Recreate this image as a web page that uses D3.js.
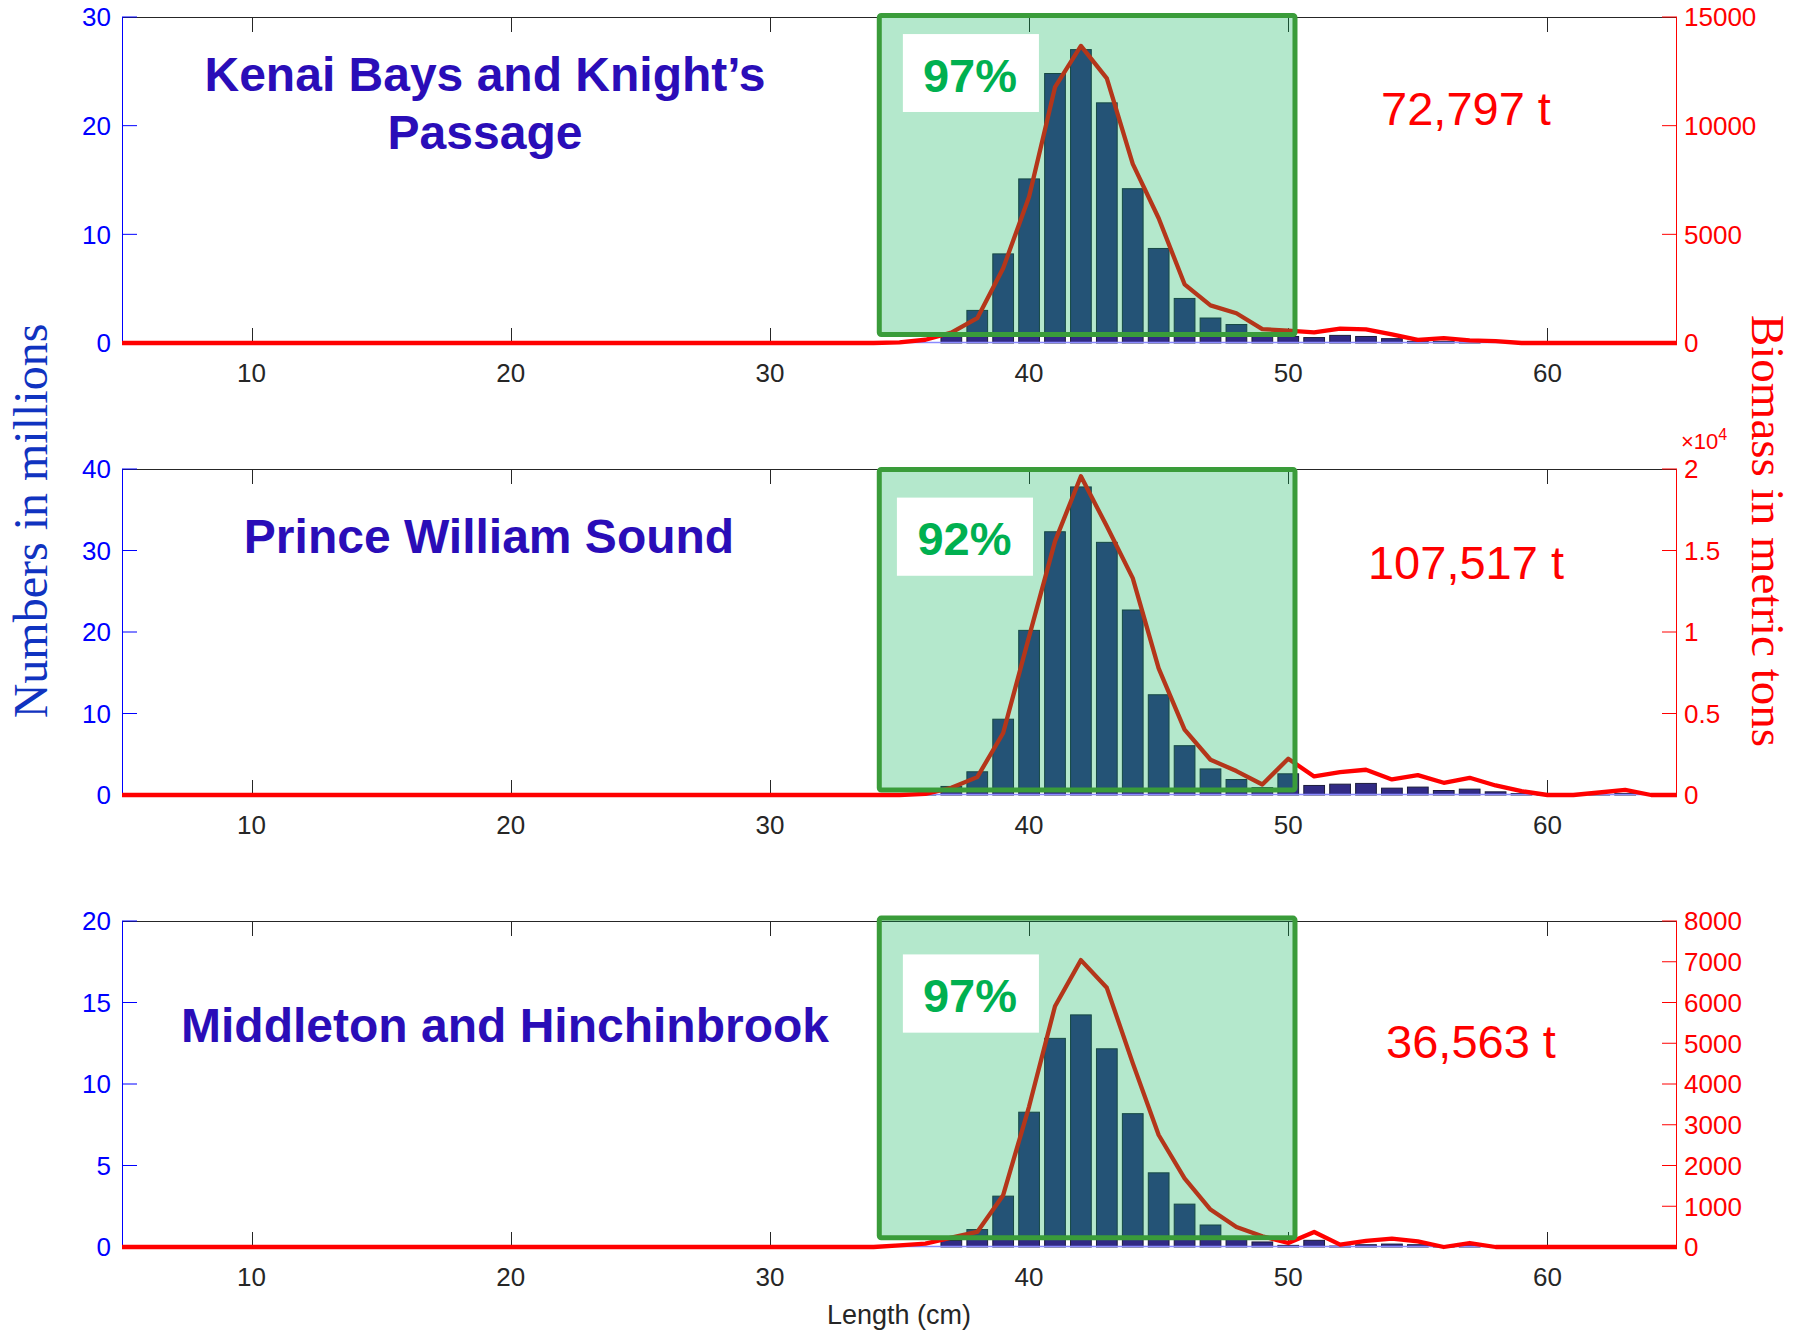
<!DOCTYPE html>
<html><head><meta charset="utf-8">
<script src="https://cdn.jsdelivr.net/npm/d3@7/dist/d3.min.js"></script>
<style>body{margin:0;background:#fff}svg{display:block}</style>
</head><body>
<script>
// ---------- data ----------
const lengths = [5,6,7,8,9,10,11,12,13,14,15,16,17,18,19,20,21,22,23,24,25,26,27,28,29,30,31,32,33,34,35,36,37,38,39,40,41,42,43,44,45,46,47,48,49,50,51,52,53,54,55,56,57,58,59,60,61,62,63,64,65];
const xTicks = [10,20,30,40,50,60];

// numbers in millions, lengths 5..65
const numbersKenai = [0,0,0,0,0,0,0,0,0,0,0,0,0,0,0,0,0,0,0,0,0,0,0,0,0,0,0,0,0,0,0,0,
  0.6,3.0,8.2,15.1,24.8,27.0,22.1,14.2,8.7,4.1,2.3,1.7,0.6,0.6,0.5,0.7,0.6,0.4,0.15,0.15,0.1,0,0,0,0,0,0,0,0];
const numbersPWS = [0,0,0,0,0,0,0,0,0,0,0,0,0,0,0,0,0,0,0,0,0,0,0,0,0,0,0,0,0,0,0,0.1,
  1.05,2.85,9.3,20.2,32.3,37.8,31.0,22.7,12.3,6.05,3.2,1.9,0.9,2.6,1.17,1.33,1.42,0.84,0.97,0.55,0.72,0.39,0.18,0.05,0,0.05,0.18,0,0];
const numbersMH = [0,0,0,0,0,0,0,0,0,0,0,0,0,0,0,0,0,0,0,0,0,0,0,0,0,0,0,0,0,0,0,0,
  0.4,1.07,3.12,8.27,12.8,14.24,12.16,8.18,4.55,2.63,1.35,0.6,0.31,0.1,0.41,0.06,0.14,0.18,0.14,0.05,0.14,0,0,0,0,0,0,0,0];

// biomass in metric tons, lengths 5..65
const biomassKenai = [0,0,0,0,0,0,0,0,0,0,0,0,0,0,0,0,0,0,0,0,0,0,0,0,0,0,0,0,0,0,30,150,
  480,1140,3440,6730,11770,13670,12180,8240,5740,2700,1730,1370,640,570,490,660,630,400,140,220,120,90,0,0,0,0,0,0,0];
const biomassPWS = [0,0,0,0,0,0,0,0,0,0,0,0,0,0,0,0,0,0,0,0,0,0,0,0,0,0,0,0,0,0,0,70,
  441,1097,3805,9713,15559,19559,16482,13303,7764,4010,2164,1467,646,2226,1138,1405,1549,954,1221,749,1056,585,236,0,0,154,318,0,0];
const biomassMH = [0,0,0,0,0,0,0,0,0,0,0,0,0,0,0,0,0,0,0,0,0,0,0,0,0,0,0,0,0,0,41,82,
  230,369,1272,3446,5908,7040,6360,4513,2749,1682,919,492,263,98,369,57,148,205,140,0,98,0,0,0,0,0,0,0,0];

const titles = [["Kenai Bays and Knight’s","Passage"],["Prince William Sound"],["Middleton and Hinchinbrook"]];
const percents = ["97%","92%","97%"];
const totals = ["72,797 t","107,517 t","36,563 t"];
const leftMax = [30,40,20];
const leftTicks = [[0,10,20,30],[0,10,20,30,40],[0,5,10,15,20]];
const rightMax = [15000,20000,8000];
const rightTicks = [[0,5000,10000,15000],[0,5000,10000,15000,20000],[0,1000,2000,3000,4000,5000,6000,7000,8000]];
const rightTickLabels = [["0","5000","10000","15000"],["0","0.5","1","1.5","2"],["0","1000","2000","3000","4000","5000","6000","7000","8000"]];
const numbersAll = [numbersKenai, numbersPWS, numbersMH];
const biomassAll = [biomassKenai, biomassPWS, biomassMH];
// annotation boxes in data units: [x0,x1,yTop,yBottom] (left axis units)
const greenBox = [[34.22,50.26,30.14,0.78],[34.22,50.26,39.94,0.62],[34.22,50.26,20.18,0.57]];
const whiteBox = [[35.13,40.38,28.43,21.26],[34.9,40.15,36.49,26.9],[35.13,40.38,17.95,13.15]];

// ---------- layout ----------
const W = 1795, H = 1334;
const panelTop = [17, 469, 921];
const panelH = 326;
const x0 = 122, x1 = 1677;
const titleX = [485, 489, 505];
const titleY = [91, 553, 1042];
const pctX = [970, 964.5, 970];
const pctY = [92, 555, 1012];
const totX = [1466, 1466, 1471];
const totY = [125, 579, 1058];

const svg = d3.select("body").append("svg").attr("width", W).attr("height", H)
  .style("font-family", "'Liberation Sans', Arial, sans-serif");

const x = d3.scaleLinear().domain([5, 65]).range([x0, x1]);
const barW = x(5.8) - x(5);
const gray = "#262626";

for (let p = 0; p < 3; p++) {
  const top = panelTop[p], bot = top + panelH;
  const yL = d3.scaleLinear().domain([0, leftMax[p]]).range([bot, top]);
  const yR = d3.scaleLinear().domain([0, rightMax[p]]).range([bot, top]);
  const g = svg.append("g");

  // axes lines
  g.append("line").attr("x1", x0).attr("x2", x1).attr("y1", top + 0.5).attr("y2", top + 0.5)
    .attr("stroke", gray).attr("stroke-width", 1);
  // x ticks (top and bottom, inward)
  xTicks.forEach(t => {
    const xx = Math.round(x(t)) + 0.5;
    g.append("line").attr("x1", xx).attr("x2", xx).attr("y1", top).attr("y2", top + 15).attr("stroke", gray);
    g.append("line").attr("x1", xx).attr("x2", xx).attr("y1", bot).attr("y2", bot - 15).attr("stroke", gray);
    g.append("text").attr("x", x(t)).attr("y", bot + 39).attr("text-anchor", "middle")
      .attr("font-size", 26).attr("fill", gray).text(t);
  });
  // left axis
  g.append("line").attr("x1", x0 + 0.5).attr("x2", x0 + 0.5).attr("y1", top).attr("y2", bot).attr("stroke", "#0000ff");
  leftTicks[p].forEach(t => {
    const yy = yL(t);
    g.append("line").attr("x1", x0).attr("x2", x0 + 15).attr("y1", yy).attr("y2", yy).attr("stroke", "#0000ff");
    g.append("text").attr("x", 111).attr("y", yy).attr("dy", "0.36em").attr("text-anchor", "end")
      .attr("font-size", 26).attr("fill", "#0000ff").text(t);
  });
  // right axis
  g.append("line").attr("x1", x1 - 0.5).attr("x2", x1 - 0.5).attr("y1", top).attr("y2", bot).attr("stroke", "#ff0000");
  rightTicks[p].forEach((t, i) => {
    const yy = yR(t);
    g.append("line").attr("x1", x1).attr("x2", x1 - 15).attr("y1", yy).attr("y2", yy).attr("stroke", "#ff0000");
    g.append("text").attr("x", 1684).attr("y", yy).attr("dy", "0.36em").attr("text-anchor", "start")
      .attr("font-size", 26).attr("fill", "#ff0000").text(rightTickLabels[p][i]);
  });
  if (p === 1) {
    const ex = g.append("text").attr("x", 1681).attr("y", top - 20).attr("font-size", 22).attr("fill", "#ff0000");
    ex.append("tspan").text("×10");
    ex.append("tspan").attr("dy", -9).attr("font-size", 16).text("4");
  }

  // bars
  g.append("g").selectAll("rect").data(lengths.map((l, i) => ({ l, v: numbersAll[p][i] })).filter(d => d.v > 0))
    .join("rect")
    .attr("x", d => x(d.l) - barW / 2).attr("width", barW)
    .attr("y", d => yL(d.v)).attr("height", d => bot - yL(d.v))
    .attr("fill", "#312a84").attr("stroke", "#1c1c3c").attr("stroke-width", 1);

  // baseline
  g.append("line").attr("x1", x0).attr("x2", x1).attr("y1", bot - 0.5).attr("y2", bot - 0.5)
    .attr("stroke", "#8a8aff").attr("stroke-width", 1.5);

  // biomass line
  const line = d3.line().x((d, i) => x(lengths[i])).y(d => yR(d));
  g.append("path").datum(biomassAll[p]).attr("d", line).attr("fill", "none")
    .attr("stroke", "#ff0000").attr("stroke-width", 4.3).attr("stroke-linejoin", "round");

  // green box
  const gb = greenBox[p];
  g.append("rect").attr("x", x(gb[0])).attr("y", yL(gb[2])).attr("width", x(gb[1]) - x(gb[0]))
    .attr("height", yL(gb[3]) - yL(gb[2])).attr("fill", "#08b255").attr("fill-opacity", 0.3)
    .attr("stroke", "none");
  g.append("rect").attr("x", x(gb[0])).attr("y", yL(gb[2])).attr("width", x(gb[1]) - x(gb[0]))
    .attr("height", yL(gb[3]) - yL(gb[2])).attr("fill", "none")
    .attr("stroke", "#3a9c3a").attr("stroke-width", 5).attr("rx", 2);

  // white label box
  const wb = whiteBox[p];
  g.append("rect").attr("x", x(wb[0])).attr("y", yL(wb[2])).attr("width", x(wb[1]) - x(wb[0]))
    .attr("height", yL(wb[3]) - yL(wb[2])).attr("fill", "#ffffff");
  g.append("text").attr("x", pctX[p]).attr("y", pctY[p]).attr("text-anchor", "middle")
    .attr("font-size", 47).attr("font-weight", "bold").attr("fill", "#00b050").text(percents[p]);

  // title
  titles[p].forEach((t, i) => {
    g.append("text").attr("x", titleX[p]).attr("y", titleY[p] + i * 58).attr("text-anchor", "middle")
      .attr("font-size", 48).attr("font-weight", "bold").attr("fill", "#2a0db8").text(t);
  });
  // total
  g.append("text").attr("x", totX[p]).attr("y", totY[p]).attr("text-anchor", "middle")
    .attr("font-size", 47).attr("fill", "#ff0000").text(totals[p]);
}

// axis titles
svg.append("text").attr("transform", "translate(47,521) rotate(-90)").attr("text-anchor", "middle")
  .attr("font-family", "'Liberation Serif', 'Times New Roman', serif").attr("font-size", 48)
  .attr("fill", "#1033c0").text("Numbers in millions");
svg.append("text").attr("transform", "translate(1752,531) rotate(90)").attr("text-anchor", "middle")
  .attr("font-family", "'Liberation Serif', 'Times New Roman', serif").attr("font-size", 47)
  .attr("fill", "#ff0000").text("Biomass in metric tons");
svg.append("text").attr("x", 899).attr("y", 1324).attr("text-anchor", "middle")
  .attr("font-size", 27).attr("fill", gray).text("Length (cm)");
</script>
</body></html>
